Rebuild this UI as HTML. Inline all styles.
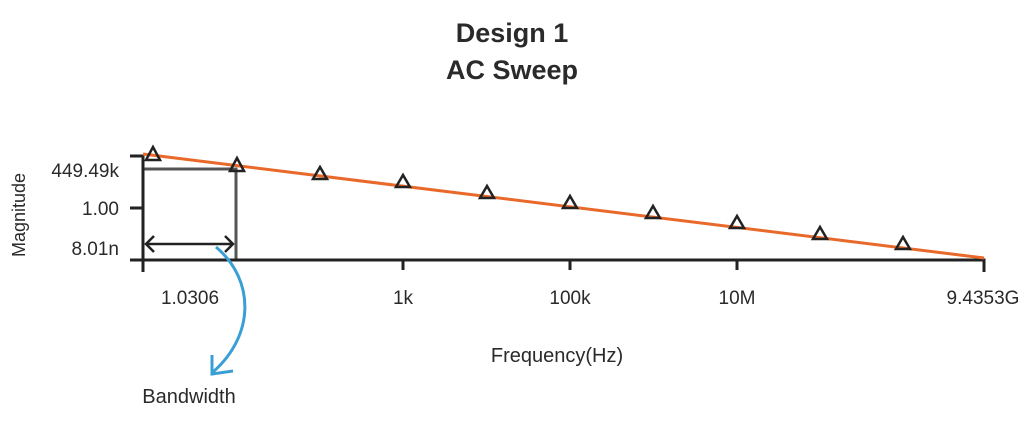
<!DOCTYPE html>
<html><head><style>
body{margin:0;background:#fff;width:1024px;height:426px;overflow:hidden}
svg text{font-family:"Liberation Sans",sans-serif;fill:#2a2a2a}
</style></head><body>
<svg width="1024" height="426" viewBox="0 0 1024 426">
<text x="512" y="42" text-anchor="middle" font-size="27" font-weight="bold">Design 1</text>
<text x="512" y="79" text-anchor="middle" font-size="27" font-weight="bold">AC Sweep</text>
<path d="M143 169 H236 V260" fill="none" stroke="#555" stroke-width="3"/>
<path d="M130 156 H143 V272" fill="none" stroke="#222" stroke-width="3"/>
<path d="M130 208 H143" stroke="#222" stroke-width="3"/>
<path d="M130 260 H984 V272" fill="none" stroke="#222" stroke-width="3"/>
<path d="M403 260 V270 M570 260 V270 M737 260 V270" stroke="#222" stroke-width="3"/>
<line x1="143" y1="154" x2="984" y2="258" stroke="#e8692a" stroke-width="3"/>
<g fill="none" stroke="#222" stroke-width="2.5">
<path d="M153 147 l-7 13 h14 z"/>
<path d="M237 158 l-7 13 h14 z"/>
<path d="M320 167 l-7 12 h14 z"/>
<path d="M403 175 l-7 12 h14 z"/>
<path d="M487 186 l-7 12 h14 z"/>
<path d="M570 196 l-7 12 h14 z"/>
<path d="M653 206 l-7 12 h14 z"/>
<path d="M737 216 l-7 12 h14 z"/>
<path d="M820 227 l-7 12 h14 z"/>
<path d="M903 237 l-7 12 h14 z"/>
</g>
<path d="M146 244 H233 M154 236 L146 244 L154 252 M225 236 L233 244 L225 252" fill="none" stroke="#222" stroke-width="2.5"/>
<path d="M216 247 C255 280 255 335 213 372" fill="none" stroke="#3a9fd4" stroke-width="3"/>
<path d="M212 355 L212 374 L233 371" fill="none" stroke="#3a9fd4" stroke-width="3"/>
<text x="119" y="177" text-anchor="end" font-size="19">449.49k</text>
<text x="119" y="215" text-anchor="end" font-size="19">1.00</text>
<text x="119" y="255" text-anchor="end" font-size="19">8.01n</text>
<text transform="translate(25,215) rotate(-90)" text-anchor="middle" font-size="18">Magnitude</text>
<text x="190" y="304" text-anchor="middle" font-size="19">1.0306</text>
<text x="403" y="304" text-anchor="middle" font-size="19">1k</text>
<text x="570" y="304" text-anchor="middle" font-size="19">100k</text>
<text x="737" y="304" text-anchor="middle" font-size="19">10M</text>
<text x="983" y="304" text-anchor="middle" font-size="19">9.4353G</text>
<text x="557" y="362" text-anchor="middle" font-size="20">Frequency(Hz)</text>
<text x="189" y="403" text-anchor="middle" font-size="20">Bandwidth</text>
</svg>
</body></html>
